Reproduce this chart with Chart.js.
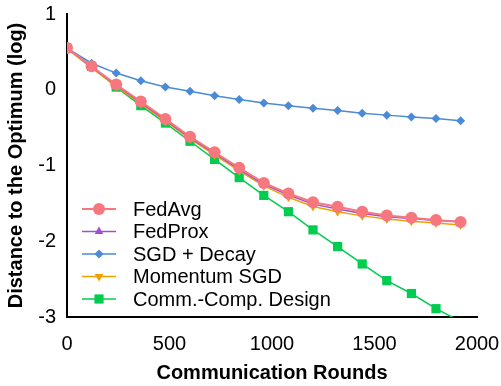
<!DOCTYPE html>
<html>
<head>
<meta charset="utf-8">
<script src="https://cdn.jsdelivr.net/npm/chart.js@4.4.1/dist/chart.umd.min.js"></script>
<style>
html,body{margin:0;padding:0;background:#fff;}
#wrap{width:501px;height:386px;position:relative;}
</style>
</head>
<body>
<div id="wrap"><canvas id="c" width="501" height="386"></canvas></div>
<script>
const rounds = [0,120,240,360,480,600,720,840,960,1080,1200,1320,1440,1560,1680,1800,1920];
const fedAvg = [0.55,0.31,0.07,-0.155,-0.385,-0.62,-0.825,-1.03,-1.23,-1.37,-1.485,-1.545,-1.61,-1.66,-1.69,-1.72,-1.745];
const fedProx = [0.55,0.30,0.06,-0.17,-0.40,-0.635,-0.84,-1.05,-1.25,-1.39,-1.51,-1.575,-1.635,-1.675,-1.70,-1.725,-1.74];
const sgdDecay = [0.55,0.35,0.22,0.12,0.035,-0.02,-0.08,-0.13,-0.175,-0.21,-0.245,-0.275,-0.31,-0.335,-0.36,-0.38,-0.41];
const momentumSgd = [0.54,0.29,0.045,-0.185,-0.415,-0.65,-0.86,-1.07,-1.27,-1.42,-1.54,-1.61,-1.665,-1.705,-1.735,-1.76,-1.785];
const commComp = [0.55,0.31,0.035,-0.21,-0.44,-0.68,-0.92,-1.16,-1.395,-1.61,-1.85,-2.07,-2.30,-2.52,-2.69,-2.89,-3.06];
const seriesNames = ['FedAvg','FedProx','SGD + Decay','Momentum SGD','Comm.-Comp. Design'];
const xTicks = [0,500,1000,1500,2000];
const yTicks = [-3,-2,-1,0,1];

const FONT = '"Liberation Sans", Arial, Helvetica, sans-serif';
const styles = [
  {color:'#F7777F', point:'circle', r:6, rot:0, bw:2},
  {color:'#A04FD2', point:'triangle', r:5, rot:0, bw:1.5},
  {color:'#4A8AD6', point:'rectRot', r:4.5, rot:0, bw:1.5},
  {color:'#F0A000', point:'triangle', r:5, rot:180, bw:1.5},
  {color:'#00CC50', point:'rect', r:6.5, rot:0, bw:1.5}
];
const values = [fedAvg, fedProx, sgdDecay, momentumSgd, commComp];
const drawOrder = [0,1,2,3,4];

const datasets = values.map((v,i)=>({
  label: seriesNames[i],
  data: rounds.map((x,j)=>({x:x,y:v[j]})),
  borderColor: styles[i].color,
  backgroundColor: styles[i].color,
  pointBackgroundColor: styles[i].color,
  pointBorderColor: styles[i].color,
  pointBorderWidth: 0,
  borderWidth: styles[i].bw,
  pointStyle: styles[i].point,
  pointRadius: styles[i].r,
  pointRotation: styles[i].rot,
  pointHoverRadius: styles[i].r,
  tension: 0,
  clip: 0,
  order: drawOrder[i]
}));

const legendPlugin = {
  id:'lineLegend',
  afterDraw(chart){
    const ctx = chart.ctx;
    const x0 = 82, x1 = 116, xt = 133;
    const ys = [209, 231.5, 254, 276.5, 299];
    ctx.save();
    ctx.font = '20px ' + FONT;
    ctx.textBaseline = 'middle';
    ctx.textAlign = 'left';
    seriesNames.forEach((name,i)=>{
      const st = styles[i];
      const y = ys[i];
      ctx.strokeStyle = st.color;
      ctx.lineWidth = st.bw;
      ctx.beginPath(); ctx.moveTo(x0,y); ctx.lineTo(x1,y); ctx.stroke();
      ctx.fillStyle = st.color;
      Chart.helpers.drawPoint(ctx,{pointStyle:st.point, radius:st.r, rotation:st.rot, borderWidth:0}, (x0+x1)/2, y);
      ctx.fillStyle = '#000';
      ctx.fillText(name, xt, y+1);
    });
    ctx.restore();
  }
};

new Chart(document.getElementById('c'), {
  type:'line',
  data:{datasets:datasets},
  options:{
    responsive:false,
    animation:false,
    devicePixelRatio:1,
    layout:{padding:{top:14,right:24,left:0,bottom:0}},
    plugins:{legend:{display:false}, tooltip:{enabled:false}},
    scales:{
      x:{
        type:'linear', min:0, max:2000,
        afterBuildTicks(s){ s.ticks = xTicks.map(v=>({value:v})); },
        afterFit(s){ s.height = 69; s.paddingLeft = 0; s.paddingRight = 0; },
        border:{color:'#000', width:2},
        grid:{display:false, drawOnChartArea:false, drawTicks:true, tickLength:7, tickColor:'#000', tickWidth:2},
        ticks:{color:'#000', font:{family:FONT, size:20}, padding:8, maxRotation:0, autoSkip:false, callback:(v)=>String(v)},
        title:{display:true, text:'Communication Rounds', color:'#000', font:{family:FONT, size:20, weight:'bold'}, padding:{top:4,bottom:1}}
      },
      y:{
        type:'linear', min:-3, max:1,
        afterBuildTicks(s){ s.ticks = yTicks.map(v=>({value:v})); },
        afterFit(s){ s.width = 67; s.paddingTop = 0; s.paddingBottom = 0; },
        border:{color:'#000', width:2},
        grid:{display:false, drawOnChartArea:false, drawTicks:true, tickLength:7, tickColor:'#000', tickWidth:2},
        ticks:{color:'#000', font:{family:FONT, size:20}, padding:4, autoSkip:false, callback:(v)=>String(v)},
        title:{display:true, text:'Distance to the Optimum (log)', color:'#000', font:{family:FONT, size:20, weight:'bold'}, padding:{top:4,bottom:0}}
      }
    }
  },
  plugins:[legendPlugin]
});
</script>
</body>
</html>
